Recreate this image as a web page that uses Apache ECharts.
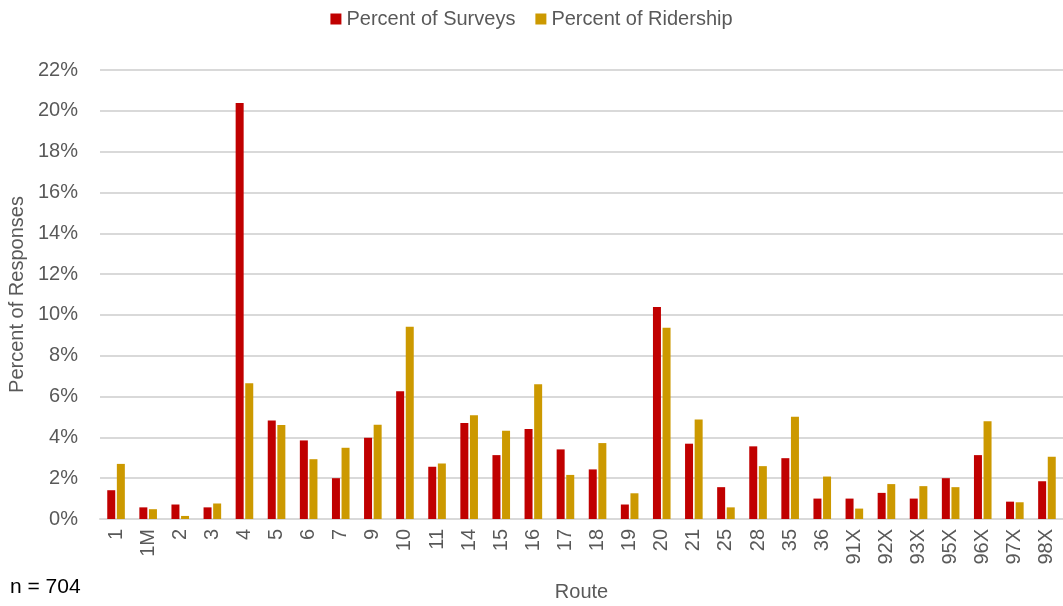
<!DOCTYPE html>
<html lang="en">
<head>
    <meta charset="UTF-8">
    <title>Percent of Responses by Route</title>
    <script src="https://cdn.jsdelivr.net/npm/echarts@6/dist/echarts.min.js"></script>
    <style>
        html, body { margin: 0; padding: 0; background: #fff; }
        #main { width: 1063px; height: 606px; }
    </style>
</head>
<body>
<div id="main"></div>
<script>
    var routes = ['1', '1M', '2', '3', '4', '5', '6', '7', '9', '10', '11', '14', '15', '16', '17', '18', '19',
        '20', '21', '25', '28', '35', '36', '91X', '92X', '93X', '95X', '96X', '97X', '98X'];
    var pctSurveys = [1.41, 0.57, 0.71, 0.57, 20.38, 4.83, 3.85, 2.0, 3.98, 6.26, 2.56, 4.70, 3.13, 4.41, 3.41, 2.43, 0.71,
        10.39, 3.69, 1.56, 3.56, 2.98, 1.0, 1.0, 1.28, 1.0, 2.0, 3.13, 0.85, 1.85];
    var pctRidership = [2.70, 0.48, 0.15, 0.76, 6.65, 4.60, 2.93, 3.49, 4.62, 9.42, 2.72, 5.08, 4.32, 6.60, 2.16, 3.72, 1.26,
        9.37, 4.88, 0.57, 2.59, 5.01, 2.08, 0.51, 1.71, 1.61, 1.56, 4.79, 0.82, 3.05];

    var font = "'Liberation Sans Narrow', 'Arial Narrow', 'Liberation Sans', sans-serif";
    var grey = '#595959';

    var myChart = echarts.init(document.getElementById('main'));
    myChart.setOption({
        animation: false,
        textStyle: {fontFamily: font},
        legend: {
            top: 4,
            left: 'center',
            icon: 'rect',
            itemWidth: 11,
            itemHeight: 11,
            itemGap: 20,
            textStyle: {fontFamily: font, fontSize: 20, color: grey},
            data: ['Percent of Surveys', 'Percent of Ridership']
        },
        grid: {left: 100, right: 0, top: 70, bottom: 87, outerBoundsMode: 'none', containLabel: false},
        xAxis: {
            type: 'category',
            data: routes,
            name: 'Route',
            nameLocation: 'middle',
            nameGap: 63,
            nameTextStyle: {fontFamily: font, fontSize: 20, color: grey},
            axisLine: {lineStyle: {color: '#d9d9d9', width: 2}},
            axisTick: {show: false},
            axisLabel: {rotate: 90, interval: 0, fontFamily: font, fontSize: 20, color: grey, margin: 10}
        },
        yAxis: {
            type: 'value',
            min: 0,
            max: 22,
            interval: 2,
            name: 'Percent of Responses',
            nameLocation: 'middle',
            nameGap: 72,
            nameTextStyle: {fontFamily: font, fontSize: 20, color: grey},
            axisLabel: {formatter: '{value}%', fontFamily: font, fontSize: 20, color: grey, margin: 22},
            splitLine: {lineStyle: {color: '#d9d9d9', width: 2}},
            axisLine: {show: false},
            axisTick: {show: false}
        },
        graphic: [{
            type: 'text',
            left: 10,
            top: 577,
            style: {text: 'n = 704', font: '21px ' + font, fill: '#000'}
        }],
        series: [{
            name: 'Percent of Surveys',
            type: 'bar',
            data: pctSurveys,
            barWidth: 8,
            barGap: '20%',
            itemStyle: {color: '#c00000'}
        }, {
            name: 'Percent of Ridership',
            type: 'bar',
            data: pctRidership,
            barWidth: 8,
            itemStyle: {color: '#cc9900'}
        }]
    });
</script>
</body>
</html>
